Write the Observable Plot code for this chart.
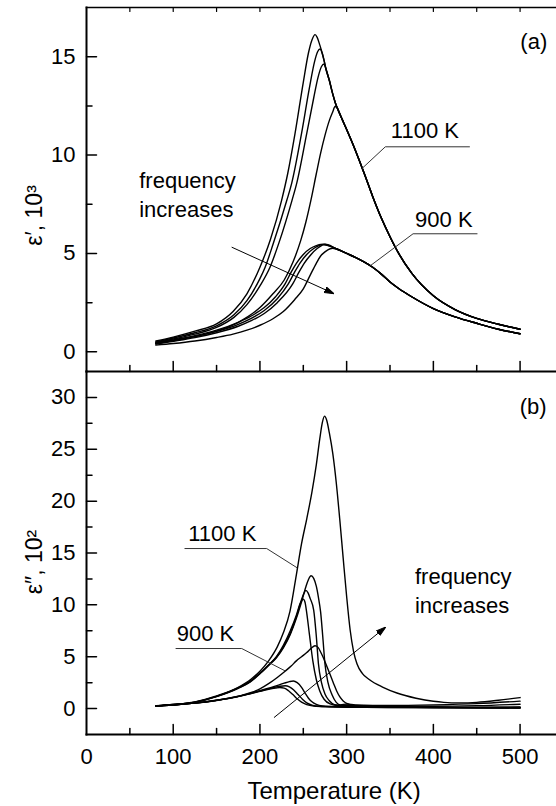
<!DOCTYPE html>
<html>
<head>
<meta charset="utf-8">
<script src="https://cdn.jsdelivr.net/npm/d3@7"></script>
<script src="https://cdn.jsdelivr.net/npm/@observablehq/plot@0.6"></script>
<style>
  html, body { margin: 0; padding: 0; background: white; }
  #chart svg { display: block; }
</style>
</head>
<body>
<div id="chart"></div>
<script>
// ---------------- DATA ----------------
// Panel (a): epsilon' (x10^3) vs Temperature (K)
// 1100 K sample (frequency increases A1 -> A4)
const A1_T = [80,100,125,150,169,185,200,212,225,232,240.5,250,256,260,263.6,266,269,272,274,276];
const A1_V = [0.55,0.75,1.05,1.42,2.05,2.95,4.3,5.7,7.7,9.05,11.1,13.7,15.2,15.85,16.12,15.98,15.6,15.15,14.8,14.4];
const A2_T = [80,100,125,150,170,185,200,206,215,231,236.6,248,257,263,266.5,269.3,272,274,276];
const A2_V = [0.5,0.7,0.97,1.32,1.88,2.6,3.72,4.3,5.45,7.7,8.56,11.1,13.4,14.75,15.25,15.39,15.15,14.8,14.4];
const A3_T = [80,100,125,150,170,185,200,211.6,222,237,242.4,254,262,267,271,273.9,276];
const A3_V = [0.47,0.65,0.9,1.24,1.75,2.4,3.35,4.3,5.55,7.7,8.56,11.1,12.9,13.95,14.5,14.63,14.4];
const A4_T = [80,100,125,150,175,200,215,228,238,247,253,259,265,270,275,280,284,286.6,289,292];
const A4_V = [0.42,0.57,0.78,1.05,1.5,2.25,2.95,3.65,4.55,5.65,6.6,7.75,9.05,10.1,11.0,11.75,12.2,12.47,12.42,12.12];
const tailA_T = [280,284,287,290,295,300,310,320,330,340,350,360,375,400,425,450,475,500];
const tailA_V = [13.8,13.1,12.65,12.3,11.8,11.3,10.25,9.1,7.9,6.8,5.85,5.0,4.0,2.85,2.15,1.7,1.4,1.15];
// 900 K sample
const B1_T = [80,100,125,150,175,190,205,218,229,236,242,250,258,265,270,276,282,286];
const B1_V = [0.45,0.6,0.82,1.1,1.5,1.82,2.25,2.8,3.45,4.05,4.5,4.95,5.25,5.4,5.46,5.43,5.35,5.28];
const B2_T = [80,100,125,150,175,190,205,220,232.7,240,246,254,262,268,273,278,283,286];
const B2_V = [0.42,0.57,0.78,1.04,1.4,1.7,2.1,2.7,3.45,4.05,4.5,4.95,5.25,5.4,5.47,5.43,5.33,5.28];
const B3_T = [80,100,125,150,175,190,205,220,237.8,245,251,259,266,271,275,280,286];
const B3_V = [0.39,0.53,0.72,0.97,1.3,1.58,1.95,2.5,3.45,4.05,4.5,4.95,5.25,5.4,5.47,5.42,5.28];
const B4_T = [80,100,125,150,169,185,200,215,227,240,250,258,265,270,275,281,284,288];
const B4_V = [0.34,0.42,0.55,0.73,0.9,1.1,1.35,1.68,2.05,2.65,3.2,3.9,4.5,4.87,5.08,5.24,5.26,5.22];
const tailB_T = [290,300,310,320,330,340,350,360,375,400,425,450,475,500];
const tailB_V = [5.2,5.0,4.8,4.57,4.3,3.95,3.55,3.22,2.8,2.2,1.78,1.45,1.15,0.92];

// Panel (b): epsilon'' (x10^2) vs Temperature (K)
// 1100 K sample
const C1_T = [80,100,125,150,175,188.5,200,210,219,227,235,242,246,248.5,250,252,254,257,261,265,269,274,281,290,300,320,350,400,450,500];
const C1_V = [0.26,0.39,0.62,1.18,2.0,2.6,3.4,4.2,5.0,6.1,7.5,9.0,10.05,10.45,10.55,10.25,9.2,7.2,4.6,2.8,1.7,0.9,0.45,0.3,0.3,0.22,0.18,0.12,0.1,0.1];
const C2_T = [80,100,125,150,175,188.5,200,210,219,227,235,242,247,251,253,255.5,258,262,265,267.5,271,275,280,286,295,300,310,350,400,450,500];
const C2_V = [0.26,0.39,0.62,1.18,2.0,2.6,3.4,4.2,4.95,5.95,7.25,8.85,10.25,11.15,11.4,11.15,10.6,9.5,7.0,4.3,2.5,1.4,0.75,0.38,0.3,0.36,0.3,0.24,0.22,0.28,0.42];
const C3_T = [80,100,125,150,175,188.5,200,210,219,227,235,242,248,253,256,259,262,265,267.5,270,272.5,275,278.5,283,288,293,300,310,350,400,450,500];
const C3_V = [0.26,0.38,0.6,1.15,1.95,2.55,3.35,4.15,4.9,5.85,7.15,8.7,10.3,11.75,12.45,12.8,12.55,11.8,10.7,9.3,6.9,4.3,2.5,1.35,0.6,0.35,0.45,0.36,0.3,0.36,0.48,0.72];
const C4_T = [80,100,125,150,175,190,200,210,220,227,234.7,242,248,254,260,265,269,272,274.5,277,280,284,288,292,296,300,304,308,312,318,326,342,358,380,400,412,430,450,475,500];
const C4_V = [0.27,0.4,0.65,1.22,2.05,2.85,3.6,4.6,5.95,7.3,9.4,12.9,15.9,18.3,20.9,23.5,26.0,27.6,28.2,27.8,26.6,24.6,21.8,18.3,14.5,10.8,7.6,5.5,4.3,3.4,2.8,2.05,1.5,1.0,0.7,0.6,0.55,0.6,0.8,1.06];
// 900 K sample
const D1_T = [80,100,125,150,175,190,200,210,218,223,228,233,238,243,248,254,262,280,320,400,500];
const D1_V = [0.24,0.35,0.52,0.78,1.15,1.45,1.66,1.85,1.97,2.03,1.97,1.72,1.35,0.95,0.62,0.38,0.25,0.18,0.12,0.08,0.05];
const D2_T = [80,100,125,150,175,190,200,212,222,229,234,239,244,249,254,260,268,290,350,500];
const D2_V = [0.24,0.35,0.52,0.79,1.17,1.47,1.69,1.95,2.13,2.2,2.1,1.8,1.35,0.9,0.55,0.33,0.22,0.16,0.1,0.06];
const D3_T = [80,100,125,150,175,190,200,215,228,234,238.5,243,248,252,256,260,265,272,290,350,500];
const D3_V = [0.24,0.35,0.52,0.8,1.19,1.5,1.72,2.08,2.45,2.6,2.66,2.5,2.05,1.5,1.0,0.65,0.4,0.26,0.2,0.15,0.1];
const D4_T = [80,100,125,150,175,190,200,210,220,229,236,242,248,254,259,263.5,267,270,273,277,280.8,285,288.5,292,296,303,311,330,360,400,450,500];
const D4_V = [0.25,0.36,0.52,0.8,1.18,1.55,1.9,2.4,3.0,3.6,4.1,4.6,5.0,5.4,5.8,6.05,5.9,5.45,4.92,4.1,3.3,2.4,1.7,1.15,0.74,0.4,0.26,0.2,0.15,0.12,0.12,0.15];

// Axes
const xDomain = [0, 542];
const yDomainA = [-1, 17.5];
const yDomainB = [-2.5, 32.5];
const xMajorLabels = [0, 100, 200, 300, 400, 500];
const xMajor = [100, 200, 300, 400, 500];
const xMinor = [50, 150, 250, 350, 450];
const xTop = [50, 100, 150, 200, 250, 300, 350, 400, 450, 500];
const yMajorA = [0, 5, 10, 15];
const yMinorA = [2.5, 7.5, 12.5];
const yMajorB = [0, 5, 10, 15, 20, 25, 30];
const yMinorB = [2.5, 7.5, 12.5, 17.5, 22.5, 27.5];

// Annotations (data coordinates)
const labelsA = [
  {text: "1100 K", T: 351, v: 10.85},
  {text: "900 K", T: 378.9, v: 6.34},
  {text: "frequency\nincreases", T: 60.8, v: 6.85},
  {text: "(a)", T: 500.3, v: 15.39}
];
const leadersA = [
  {id: "1100", pts: [[317.8, 9.32], [344.6, 10.42], [441.6, 10.42]]},
  {id: "900", pts: [[327.7, 4.39], [376.6, 6.0], [450.4, 6.0]]}
];
const arrowA = [{T1: 167.4, v1: 5.32, T2: 284.6, v2: 2.97}];

const labelsB = [
  {text: "1100 K", T: 117.3, v: 16.17},
  {text: "900 K", T: 104, v: 6.53},
  {text: "frequency\nincreases", T: 378.8, v: 9.26},
  {text: "(b)", T: 499.5, v: 28.45}
];
const leadersB = [
  {id: "1100", pts: [[242.4, 13.6], [207.8, 15.43], [113.5, 15.43]]},
  {id: "900", pts: [[228.9, 3.64], [179, 5.79], [103.2, 5.79]]}
];
const arrowB = [{T1: 216.2, v1: -0.87, T2: 344.3, v2: 7.81}];

const yTitleA = "ε′, 10³";
const yTitleB = "ε″, 10²";
const xTitle = [{text: "Temperature (K)", T: 285.5}];

// ---------------- BUILD ----------------
function withTail(T, V, tT, tV) {
  const last = T[T.length - 1];
  const outT = T.slice(), outV = V.slice();
  tT.forEach((t, i) => { if (t > last) { outT.push(t); outV.push(tV[i]); } });
  return [outT, outV];
}
function rows(id, T, V) { return T.map((t, i) => ({id, T: t, v: V[i]})); }

const rowsA = [
  ...rows("A1", ...withTail(A1_T, A1_V, tailA_T, tailA_V)),
  ...rows("A2", ...withTail(A2_T, A2_V, tailA_T, tailA_V)),
  ...rows("A3", ...withTail(A3_T, A3_V, tailA_T, tailA_V)),
  ...rows("A4", ...withTail(A4_T, A4_V, tailA_T, tailA_V)),
  ...rows("B1", ...withTail(B1_T, B1_V, tailB_T, tailB_V)),
  ...rows("B2", ...withTail(B2_T, B2_V, tailB_T, tailB_V)),
  ...rows("B3", ...withTail(B3_T, B3_V, tailB_T, tailB_V)),
  ...rows("B4", ...withTail(B4_T, B4_V, tailB_T, tailB_V))
];
const rowsB = [
  ...rows("C1", C1_T, C1_V), ...rows("C2", C2_T, C2_V),
  ...rows("C3", C3_T, C3_V), ...rows("C4", C4_T, C4_V),
  ...rows("D1", D1_T, D1_V), ...rows("D2", D2_T, D2_V),
  ...rows("D3", D3_T, D3_V), ...rows("D4", D4_T, D4_V)
];
const leaderRows = (L) => L.flatMap(l => l.pts.map(([T, v]) => ({id: l.id, T, v})));

const FONT = "'Liberation Sans', Arial, Helvetica, sans-serif";

// straight tick shape for Plot.vector (drawn pointing "up", rotated by the mark)
const tickShape = {draw(context, l) { context.moveTo(0, 0); context.lineTo(0, -l); }};
const ticksY = (vals, len) => Plot.vector(vals, {y: d => d, frameAnchor: "left", rotate: 90, length: len, anchor: "start", shape: tickShape, stroke: "black", strokeWidth: 1.5});
const ticksX = (vals, len, side) => Plot.vector(vals, {x: d => d, frameAnchor: side, rotate: side === "bottom" ? 0 : 180, length: len, anchor: "start", shape: tickShape, stroke: "black", strokeWidth: side === "bottom" ? 1.5 : 1.2});

function filledArrow(color, context) {
  const ns = "http://www.w3.org/2000/svg";
  const doc = (context && context.document) || document;
  const m = doc.createElementNS(ns, "marker");
  m.setAttribute("viewBox", "-9 -4 10 8");
  m.setAttribute("markerWidth", "10");
  m.setAttribute("markerHeight", "8");
  m.setAttribute("markerUnits", "userSpaceOnUse");
  m.setAttribute("orient", "auto");
  m.setAttribute("refX", "0");
  m.setAttribute("refY", "0");
  const p = doc.createElementNS(ns, "path");
  p.setAttribute("d", "M-9,-3L1,0L-9,3Z");
  p.setAttribute("fill", "black");
  m.appendChild(p);
  return m;
}

function panel(opts) {
  const {height, marginTop, marginBottom, yDomain, yMajor, yMinor, data, labels, leaders, arrow, yTitle, titleDy, bottomAxis} = opts;
  const marks = [
    Plot.line(data, {x: "T", y: "v", z: "id", curve: "monotone-x", stroke: "black", strokeWidth: 1.4}),
    Plot.line(leaderRows(leaders), {x: "T", y: "v", z: "id", stroke: "#333", strokeWidth: 1}),
    Plot.link(arrow, {x1: "T1", y1: "v1", x2: "T2", y2: "v2", stroke: "black", strokeWidth: 1, markerEnd: filledArrow}),
    Plot.text(labels, {x: "T", y: "v", text: "text", textAnchor: "start", lineAnchor: "bottom", lineHeight: 1.32, fontSize: 22, fill: "black"}),
    Plot.text([yTitle], {frameAnchor: "left", rotate: -90, dx: -45, dy: titleDy, textAnchor: "middle", lineAnchor: "bottom", fontSize: 23, fill: "black"}),
    Plot.axisY(yMajor, {tickSize: 0, tickPadding: 11, fontSize: 22, label: null}),
    ticksY(yMajor, 10),
    ticksY(yMinor, 5.5),
    ticksX(xMajor, 10, "bottom"),
    ticksX(xMinor, 6, "bottom"),
    Plot.frame({anchor: "left", strokeWidth: 2}),
    Plot.frame({anchor: "bottom", strokeWidth: 2})
  ];
  if (bottomAxis) {
    marks.push(
      Plot.axisX(xMajorLabels, {anchor: "bottom", tickSize: 0, tickPadding: 14, fontSize: 22, label: null}),
      Plot.text(xTitle, {x: "T", text: "text", frameAnchor: "bottom", dy: 64, lineAnchor: "bottom", fontSize: 24, fill: "black"})
    );
  } else {
    marks.push(
      ticksX(xTop, 4, "top"),
      Plot.frame({anchor: "top", strokeWidth: 1.5})
    );
  }
  return Plot.plot({
    width: 556, height, marginLeft: 86, marginRight: 0, marginTop, marginBottom,
    x: {domain: xDomain, axis: null},
    y: {domain: yDomain, axis: null},
    style: {fontFamily: FONT, fontSize: "22px", color: "black", background: "transparent", overflow: "visible"},
    marks
  });
}

const chart = document.getElementById("chart");
chart.appendChild(panel({
  height: 371, marginTop: 7, marginBottom: 0, yDomain: yDomainA, yMajor: yMajorA, yMinor: yMinorA,
  data: rowsA, labels: labelsA, leaders: leadersA, arrow: arrowA, yTitle: yTitleA, titleDy: 26, bottomAxis: false
}));
chart.appendChild(panel({
  height: 435, marginTop: 0, marginBottom: 72, yDomain: yDomainB, yMajor: yMajorB, yMinor: yMinorB,
  data: rowsB, labels: labelsB, leaders: leadersB, arrow: arrowB, yTitle: yTitleB, titleDy: 9, bottomAxis: true
}));
</script>
</body>
</html>
